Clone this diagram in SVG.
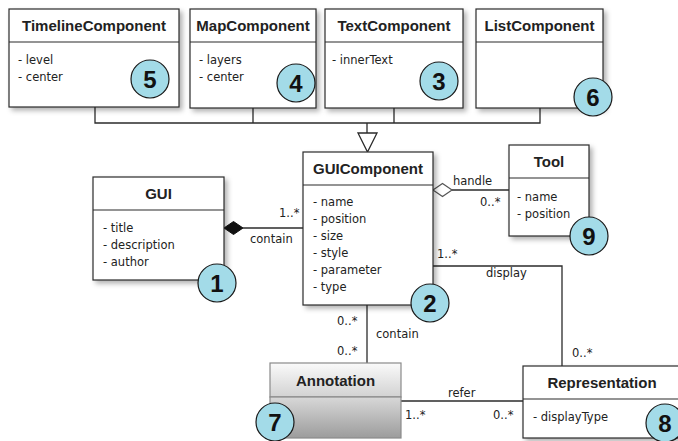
<svg xmlns="http://www.w3.org/2000/svg" width="678" height="441" viewBox="0 0 678 441">
<defs>
<filter id="sh" x="-10%" y="-10%" width="130%" height="130%">
<feDropShadow dx="3" dy="3" stdDeviation="2.5" flood-color="#000" flood-opacity="0.3"/>
</filter>
<linearGradient id="gHead" x1="0" y1="0" x2="0" y2="1">
<stop offset="0" stop-color="#fafafa"/><stop offset="1" stop-color="#d2d2d2"/>
</linearGradient>
<linearGradient id="gBody" x1="0" y1="0" x2="0" y2="1">
<stop offset="0" stop-color="#d8d8d8"/><stop offset="1" stop-color="#9c9c9c"/>
</linearGradient>
<style>
.box{fill:#fff;stroke:#2b2b2b;stroke-width:1.2}
.sep{stroke:#2b2b2b;stroke-width:1.2}
.ttl{font-family:"Liberation Sans",Arial,sans-serif;font-size:15px;font-weight:bold;fill:#222;text-anchor:middle}
.att{font-family:"DejaVu Sans",sans-serif;font-size:11.5px;fill:#222}
.lbl{font-family:"DejaVu Sans",sans-serif;font-size:11.5px;fill:#222}
.ln{fill:none;stroke:#2b2b2b;stroke-width:1.3}
.num circle{fill:#a3dbe8;stroke:#1a1a1a;stroke-width:1.2}
.num text{font-family:"Liberation Sans",Arial,sans-serif;font-size:24px;font-weight:bold;fill:#111;text-anchor:middle}
</style>
</defs>
<rect width="678" height="441" fill="#fff"/>

<g id="connectors">
<path class="ln" d="M95,107 V123 H540 V108 M253,108 V123 M394,108 V123 M367,123 V133"/>
<polygon points="358,133 377,133 367.5,152" fill="#fff" stroke="#2b2b2b" stroke-width="1.3"/>
<path class="ln" d="M243,228 H303"/>
<polygon points="224,228 233.5,221.5 243,228 233.5,234.5" fill="#111" stroke="#111" stroke-width="1"/>
<text class="lbl" x="279" y="217">1..*</text>
<text class="lbl" x="250" y="243">contain</text>
<path class="ln" d="M452,190 H509"/>
<polygon points="433,190 442.5,183.5 452,190 442.5,196.5" fill="#fff" stroke="#555" stroke-width="1.2"/>
<text class="lbl" x="453" y="185">handle</text>
<text class="lbl" x="480" y="206">0..*</text>
<path class="ln" d="M433,266 H562 V366"/>
<text class="lbl" x="437" y="258">1..*</text>
<text class="lbl" x="486" y="277">display</text>
<text class="lbl" x="572" y="357">0..*</text>
<path class="ln" d="M367,305 V363"/>
<text class="lbl" x="337" y="325">0..*</text>
<text class="lbl" x="376" y="338">contain</text>
<text class="lbl" x="337" y="355">0..*</text>
<path class="ln" d="M401,401 H523"/>
<text class="lbl" x="448" y="397">refer</text>
<text class="lbl" x="405" y="419">1..*</text>
<text class="lbl" x="493" y="419">0..*</text>
</g>

<g id="TimelineComponent">
<rect class="box" x="9" y="9" width="170" height="98" filter="url(#sh)"/>
<line class="sep" x1="9" y1="42" x2="179" y2="42"/>
<text class="ttl" x="94" y="31">TimelineComponent</text>
<text class="att" x="18" y="64">- level</text>
<text class="att" x="18" y="81">- center</text>
</g>
<g id="MapComponent">
<rect class="box" x="190" y="9" width="126" height="99" filter="url(#sh)"/>
<line class="sep" x1="190" y1="42" x2="316" y2="42"/>
<text class="ttl" x="253" y="31">MapComponent</text>
<text class="att" x="199" y="64">- layers</text>
<text class="att" x="199" y="81">- center</text>
</g>
<g id="TextComponent">
<rect class="box" x="325" y="9" width="138" height="99" filter="url(#sh)"/>
<line class="sep" x1="325" y1="42" x2="463" y2="42"/>
<text class="ttl" x="394" y="31">TextComponent</text>
<text class="att" x="332" y="64">- innerText</text>
</g>
<g id="ListComponent">
<rect class="box" x="476" y="9" width="127" height="99" filter="url(#sh)"/>
<line class="sep" x1="476" y1="42" x2="603" y2="42"/>
<text class="ttl" x="539.5" y="31">ListComponent</text>
</g>
<g id="GUI">
<rect class="box" x="93" y="177" width="131" height="103" filter="url(#sh)"/>
<line class="sep" x1="93" y1="210" x2="224" y2="210"/>
<text class="ttl" x="158.5" y="199">GUI</text>
<text class="att" x="103" y="232">- title</text>
<text class="att" x="103" y="249">- description</text>
<text class="att" x="103" y="266">- author</text>
</g>
<g id="GUIComponent">
<rect class="box" x="303" y="152" width="130" height="153" filter="url(#sh)"/>
<line class="sep" x1="303" y1="185" x2="433" y2="185"/>
<text class="ttl" x="368" y="174">GUIComponent</text>
<text class="att" x="313" y="206">- name</text>
<text class="att" x="313" y="223">- position</text>
<text class="att" x="313" y="240">- size</text>
<text class="att" x="313" y="257">- style</text>
<text class="att" x="313" y="274">- parameter</text>
<text class="att" x="313" y="291">- type</text>
</g>
<g id="Tool">
<rect class="box" x="509" y="145" width="80" height="91" filter="url(#sh)"/>
<line class="sep" x1="509" y1="178" x2="589" y2="178"/>
<text class="ttl" x="549" y="167">Tool</text>
<text class="att" x="517" y="201">- name</text>
<text class="att" x="517" y="218">- position</text>
</g>
<g id="Annotation">
<rect x="270" y="363" width="131" height="34" fill="url(#gHead)" stroke="#8a8a8a" stroke-width="1.2"/>
<rect x="270" y="397" width="131" height="41" fill="url(#gBody)" stroke="#8a8a8a" stroke-width="1.2"/>
<text class="ttl" x="335.5" y="385.5">Annotation</text>
</g>
<g id="Representation">
<rect class="box" x="523" y="366" width="158" height="72" filter="url(#sh)"/>
<line class="sep" x1="523" y1="399" x2="681" y2="399"/>
<text class="ttl" x="602" y="388">Representation</text>
<text class="att" x="533" y="421">- displayType</text>
</g>

<g id="badge1" class="num"><circle cx="217" cy="283" r="19"/><text x="217" y="291.5">1</text></g>
<g id="badge2" class="num"><circle cx="430" cy="303" r="19"/><text x="430" y="311.5">2</text></g>
<g id="badge3" class="num"><circle cx="439" cy="81" r="19"/><text x="439" y="89.5">3</text></g>
<g id="badge4" class="num"><circle cx="296" cy="83" r="19"/><text x="296" y="91.5">4</text></g>
<g id="badge5" class="num"><circle cx="150" cy="79" r="19"/><text x="150" y="87.5">5</text></g>
<g id="badge6" class="num"><circle cx="593" cy="97" r="19"/><text x="593" y="105.5">6</text></g>
<g id="badge7" class="num"><circle cx="275" cy="422" r="19"/><text x="275" y="430.5">7</text></g>
<g id="badge8" class="num"><circle cx="665" cy="423" r="19"/><text x="665" y="431.5">8</text></g>
<g id="badge9" class="num"><circle cx="589" cy="236" r="19"/><text x="589" y="244.5">9</text></g>
</svg>
